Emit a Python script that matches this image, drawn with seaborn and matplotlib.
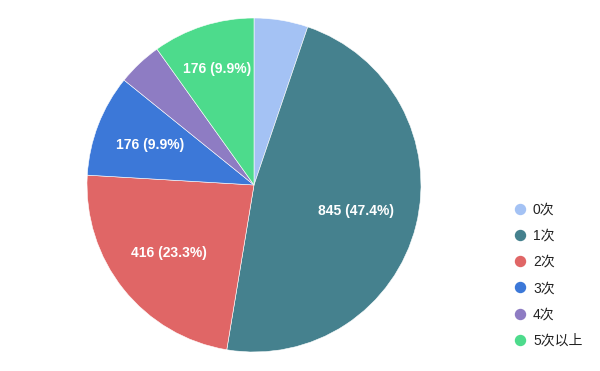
import matplotlib
matplotlib.use("Agg")
import matplotlib.pyplot as plt
from matplotlib.lines import Line2D
import numpy as np
import seaborn as sns

categories = ["0次", "1次", "2次", "3次", "4次", "5次以上"]
values = [93, 845, 416, 176, 77, 176]
colors = ["#a4c2f4", "#45818e", "#e06666", "#3c78d8", "#8e7cc3", "#4ddb8c"]

# radial placement of the in-slice labels (fraction of radius)
label_dist = [0.64, 0.632, 0.652, 0.665, 0.64, 0.73]

sns.set_theme(style="white")
plt.rcParams["font.family"] = ["Liberation Sans", "Noto Sans CJK SC", "DejaVu Sans"]

fig = plt.figure(figsize=(6.0, 3.71), dpi=100)
W, H = 600, 371
cx, cy, r = 254, 185, 167
ax = fig.add_axes([(cx - r) / W, 1 - (cy + r) / H, 2 * r / W, 2 * r / H])

total = sum(values)

def fmt(p):
    v = round(p * total / 100)
    if p < 5.5:
        return ""
    return f"{v} ({p:.1f}%)"

wedges, texts, autotexts = ax.pie(
    values, colors=colors, startangle=90, counterclock=False,
    radius=1, autopct=fmt, pctdistance=0.64,
    wedgeprops=dict(edgecolor="white", linewidth=0.4),
    textprops=dict(color="white", fontsize=10, fontweight="bold"),
)
for w, t, d in zip(wedges, autotexts, label_dist):
    th = np.deg2rad((w.theta1 + w.theta2) / 2)
    t.set_position((d * np.cos(th), d * np.sin(th)))

ax.set_xlim(-1, 1)
ax.set_ylim(-1, 1)
ax.set_aspect("auto")
ax.axis("off")

handles = [Line2D([], [], marker="o", linestyle="", markersize=7.2,
                  markerfacecolor=c, markeredgecolor=c) for c in colors]
leg = fig.legend(handles, categories, loc="upper left",
                 bbox_to_anchor=(512 / W, 1 - 202.5 / H), frameon=False,
                 fontsize=10, labelspacing=0.88, handletextpad=0.31,
                 handlelength=1.2, borderpad=0, borderaxespad=0)
for t in leg.get_texts():
    t.set_color("#222222")

fig.savefig("out.png", dpi=100)
